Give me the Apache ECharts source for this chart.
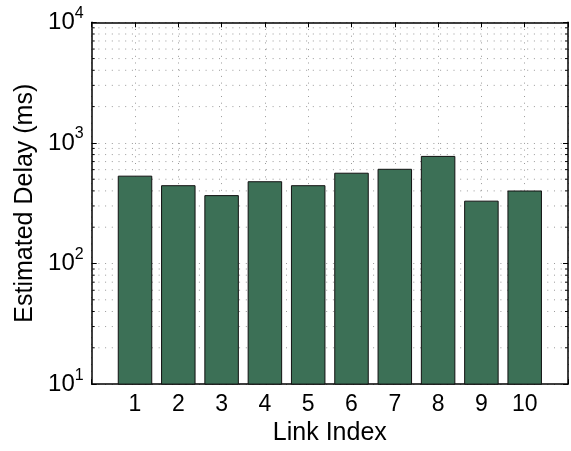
<!DOCTYPE html>
<html>
<head>
<meta charset="utf-8">
<script src="https://cdn.jsdelivr.net/npm/echarts@6/dist/echarts.min.js"></script>
<style>
  html, body { margin: 0; padding: 0; background: #fff; }
  #chart { width: 571px; height: 451px; }
</style>
</head>
<body>
<div id="chart"></div>
<script>
// Link indices and estimated delay per link (ms)
const links = [1, 2, 3, 4, 5, 6, 7, 8, 9, 10];
const delays = [535, 446, 369, 481, 446, 566, 610, 780, 332, 403];

// Log axis range and the minor grid positions inside each decade
const yMin = 10;
const yMax = 10000;
const minorValues = [];
for (let d = 10; d < yMax; d *= 10) {
  for (let k = 2; k <= 9; k++) minorValues.push(k * d);
}

const FONT = 'Liberation Sans, Arial, Helvetica, sans-serif';
const GRID_COLOR = '#9a9a9a';
const DOTS = [1, 5.7];

const chart = echarts.init(document.getElementById('chart'), null, { renderer: 'canvas' });

const powLabel = function (v) {
  const p = Math.round(Math.log10(v));
  return '{b|10}{s|' + p + '}';
};

const option = {
  backgroundColor: '#fff',
  animation: false,
  grid: { left: 91.7, right: 2.7, top: 22.3, bottom: 62.3, containLabel: false },
  xAxis: [
    {
      type: 'value', min: 0, max: 11, interval: 1,
      name: 'Link Index', nameLocation: 'middle', nameGap: 32,
      nameTextStyle: { fontFamily: FONT, fontSize: 25, color: '#000' },
      axisLine: { show: true, onZero: false, lineStyle: { color: '#000', width: 1.5 } },
      axisTick: { show: true, inside: true, length: 5, lineStyle: { color: '#000', width: 1 } },
      axisLabel: {
        fontFamily: FONT, fontSize: 23, color: '#000', margin: 9,
        formatter: function (v) { return (v >= 1 && v <= 10) ? String(v) : ''; }
      },
      splitLine: { show: true, lineStyle: { color: GRID_COLOR, width: 1, type: DOTS } }
    },
    {
      type: 'value', min: 0, max: 11, interval: 1, position: 'top',
      axisLine: { show: true, onZero: false, lineStyle: { color: '#000', width: 1.5 } },
      axisTick: { show: true, inside: true, length: 5, lineStyle: { color: '#000', width: 1 } },
      axisLabel: { show: false },
      splitLine: { show: false }
    }
  ],
  yAxis: [
    {
      type: 'log', logBase: 10, min: yMin, max: yMax,
      name: 'Estimated Delay (ms)', nameLocation: 'middle', nameGap: 52,
      nameTextStyle: { fontFamily: FONT, fontSize: 25, color: '#000' },
      axisLine: { show: true, onZero: false, lineStyle: { color: '#000', width: 1.5 } },
      axisTick: { show: true, inside: true, length: 5, lineStyle: { color: '#000', width: 1 } },
      axisLabel: {
        fontFamily: FONT, color: '#000', margin: 8,
        formatter: powLabel,
        rich: {
          b: { fontFamily: FONT, fontSize: 24, color: '#000' },
          s: { fontFamily: FONT, fontSize: 16, color: '#000', verticalAlign: 'top', padding: [0, 0, 18, 0] }
        }
      },
      splitLine: { show: true, lineStyle: { color: GRID_COLOR, width: 1, type: DOTS } }
    },
    {
      type: 'log', logBase: 10, min: yMin, max: yMax, position: 'right',
      axisLine: { show: true, onZero: false, lineStyle: { color: '#000', width: 1.5 } },
      axisTick: { show: true, inside: true, length: 5, lineStyle: { color: '#000', width: 1 } },
      axisLabel: { show: false },
      splitLine: { show: false }
    }
  ],
  series: [
    {
      // minor log grid lines plus short minor ticks on both vertical edges
      type: 'custom',
      xAxisIndex: 0, yAxisIndex: 0,
      z: 1, silent: true,
      data: minorValues.map(function (v) { return [0, v]; }),
      encode: { x: 0, y: 1 },
      renderItem: function (params, api) {
        const v = api.value(1);
        const pL = api.coord([0, v]);
        const pR = api.coord([11, v]);
        return {
          type: 'group',
          children: [
            { type: 'line', shape: { x1: pL[0], y1: pL[1], x2: pR[0], y2: pR[1] },
              style: { stroke: GRID_COLOR, lineWidth: 1, lineDash: DOTS } },
            { type: 'line', shape: { x1: pL[0], y1: pL[1], x2: pL[0] + 3, y2: pL[1] },
              style: { stroke: '#000', lineWidth: 1 } },
            { type: 'line', shape: { x1: pR[0], y1: pR[1], x2: pR[0] - 3, y2: pR[1] },
              style: { stroke: '#000', lineWidth: 1 } }
          ]
        };
      }
    },
    {
      type: 'bar',
      xAxisIndex: 0, yAxisIndex: 0,
      z: 3,
      barWidth: 34.5,
      clip: true,
      data: links.map(function (x, i) { return [x, delays[i]]; }),
      itemStyle: { color: '#3c7056', borderColor: '#111', borderWidth: 1 }
    }
  ]
};

chart.setOption(option);
</script>
</body>
</html>
